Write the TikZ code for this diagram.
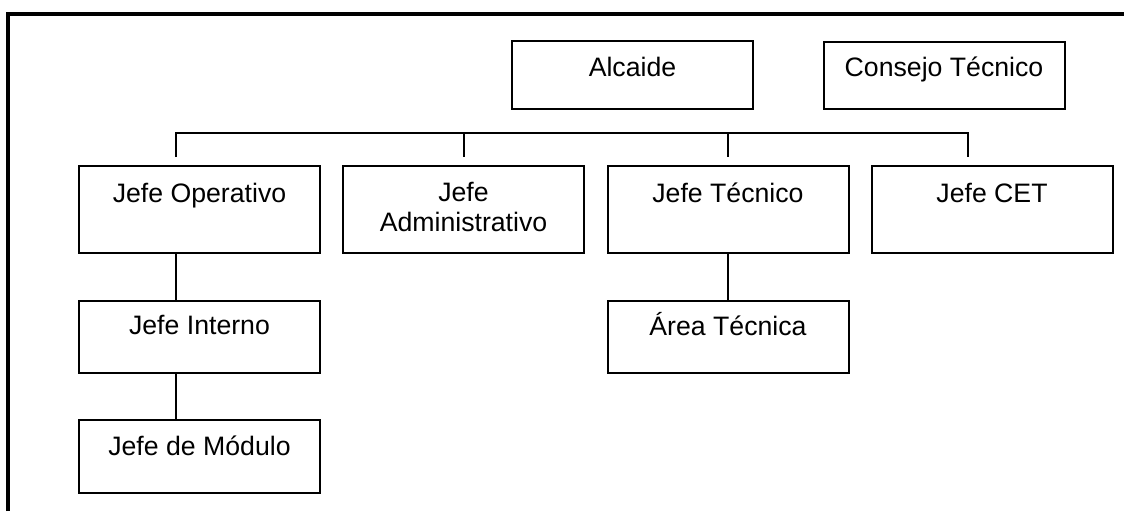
\documentclass[tikz,border=0pt]{standalone}
\usepackage{fontspec}
\setmainfont{Liberation Sans}
\begin{document}
\begin{tikzpicture}[x=0.75pt,y=-0.75pt,
  box/.style={draw, line width=1.5pt, inner sep=0pt, minimum width=180.75pt},
  lbl/.style={anchor=base, inner sep=0pt, font=\fontsize{20}{22.5}\selectfont, align=center},
  conn/.style={line width=1.5pt}]
\useasboundingbox (0,0) rectangle (1124,511);
\fill[white] (0,0) rectangle (1124,511);
% frame
\draw[line width=3pt] (8,511) -- (8,13.5) -- (1124,13.5);
% top row
\node[box, minimum height=51pt] (alc) at (632.5,75) {};
\node[box, minimum height=50.25pt] (con) at (944,75.5) {};
% second row
\node[box, minimum height=65.25pt] (op)  at (199.5,209.5) {};
\node[box, minimum height=65.25pt] (adm) at (463.5,209.5) {};
\node[box, minimum height=65.25pt] (tec) at (728,209.5) {};
\node[box, minimum height=65.25pt] (cet) at (992,209.5) {};
% lower rows
\node[box, minimum height=54pt] (int)  at (199.5,337) {};
\node[box, minimum height=54.75pt] (mod) at (199.5,456.5) {};
\node[box, minimum height=54pt] (area) at (728,337) {};
% texts
\node[lbl] (talc) at (632.5,76.7) {Alcaide};
\node[lbl] (tcon) at (944,76.7) {Consejo Técnico};
\node[lbl] (top)  at (199.5,202) {Jefe Operativo};
\node[lbl] (tadm) at (463.5,231.7) {Jefe\\Administrativo};
\node[lbl] (ttec) at (728,202) {Jefe Técnico};
\node[lbl] (tcet) at (992,202) {Jefe CET};
\node[lbl] (tint) at (199.5,334.5) {Jefe Interno};
\node[lbl] (tmod) at (199.5,455.3) {Jefe de Módulo};
\node[lbl] (tarea) at (728,335) {Área Técnica};
% connectors
\coordinate (b1) at (176,133);
\coordinate (b2) at (464,133);
\coordinate (b3) at (728,133);
\coordinate (b4) at (968,133);
\coordinate (d1) at (176,157);
\coordinate (d2) at (464,157);
\coordinate (d3) at (728,157);
\coordinate (d4) at (968,157);
\draw[conn] (d1) -- (b1) -- (b4) -- (d4);
\draw[conn] (b2) -- (d2);
\draw[conn] (b3) -- (d3);
\draw[conn] (op.south -| b1) -- (int.north -| b1);
\draw[conn] (int.south -| b1) -- (mod.north -| b1);
\draw[conn] (tec.south) -- (area.north);
\end{tikzpicture}
\end{document}
